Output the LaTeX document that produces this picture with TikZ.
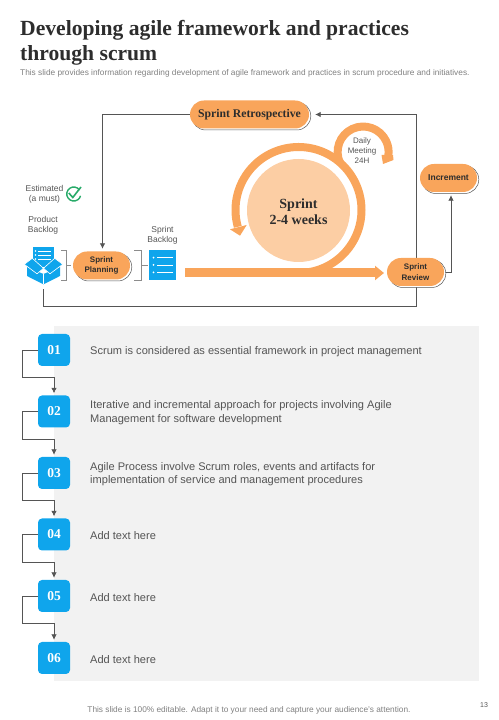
\documentclass[tikz,border=0pt]{standalone}
\usepackage{fontspec}
\setmainfont{Liberation Sans}
\newfontfamily\titlefont{Liberation Serif}
\usepackage{xcolor}
\definecolor{accent}{RGB}{249, 165, 91}
\definecolor{accentlight}{RGB}{252, 206, 164}
\definecolor{bluebox}{RGB}{15, 165, 236}
\definecolor{panelbg}{RGB}{242, 242, 242}
\definecolor{darktext}{RGB}{45, 45, 45}
\definecolor{bodytext}{RGB}{85, 85, 85}
\definecolor{linegray}{RGB}{85, 85, 85}
\definecolor{checkgreen}{RGB}{40, 170, 105}
\usetikzlibrary{shapes.misc,arrows.meta,shadows,backgrounds,calc}

\begin{document}
\begin{tikzpicture}[
  x=1pt, y=1pt,
  pill/.style={rounded rectangle, fill=accent, text=darktext, inner sep=0pt, align=center, minimum width=57pt, minimum height=28pt,
    font=\fontsize{8}{10.5}\selectfont\bfseries,
    copy shadow={shadow xshift=1.8pt, shadow yshift=-1.5pt, draw=linegray, fill=white, line width=0.5pt}},
  label/.style={text=bodytext, align=center, inner sep=0pt, font=\fontsize{8.5}{9.8}\selectfont},
  stepbox/.style={fill=bluebox, text=white, rounded corners=4pt, minimum size=32pt, inner sep=0pt, font=\titlefont\fontsize{13.5}{14}\selectfont\bfseries},
  steptext/.style={text=bodytext, anchor=west, align=left, inner sep=0pt, font=\fontsize{11.05}{13.6}\selectfont},
  arrow/.style={-{Latex[length=5.5pt,width=5.5pt]}, line width=0.7pt, color=linegray},
  bracket/.style={line width=0.6pt, color=black!45},
  sprintline/.style={line width=8pt, color=accent}
]
\useasboundingbox (0,0) rectangle (498,720);

\node[anchor=north west, inner sep=0pt, align=left, text=darktext, font=\titlefont\fontsize{21.6}{25}\selectfont\bfseries] (title) at (20,700) {Developing agile framework and practices\\through scrum};
\node[anchor=west, inner sep=0pt, text=black!50, font=\fontsize{8.3}{9}\selectfont] (subtitle) at (20,647) {This slide provides information regarding development of agile framework and practices in scrum procedure and initiatives.};

\node[pill, minimum width=119pt, font=\titlefont\fontsize{11.7}{13}\selectfont\bfseries] (retro) at (249.5,605.5) {Sprint Retrospective};
\node[pill] (planning) at (101.5,454.5) {Sprint\\Planning};
\node[pill] (review) at (415.5,448) {Sprint\\Review};
\node[pill, font=\fontsize{8.5}{10}\selectfont\bfseries] (increment) at (448.5,542) {Increment};

\node[label] (estimated) at (44.5,526) {Estimated\\(a must)};
\node[label] (product) at (43,494.5) {Product\\Backlog};
\node[label] (sprintlabel) at (162.5,485) {Sprint\\Backlog};

\node[minimum width=38pt, minimum height=38pt, inner sep=0pt] (box) at (43.5,455) {};
\node[fill=bluebox, minimum width=27pt, minimum height=30pt, inner sep=0pt] (backlog) at (162.5,455) {};

\begin{scope}[shift={(box.center)}]
  \fill[bluebox] (-10.5,18) rectangle (10,-2);
  \foreach \yy in {14,10,6} {
    \fill[white] (-8,\yy) circle (0.8);
    \draw[white, line width=0.7pt] (-5.5,\yy) -- (7.5,\yy);
  }
  \fill[bluebox] (-16.5,-2) -- (0,-9) -- (0,-19.3) -- (-16.5,-11) -- cycle;
  \fill[bluebox] (16.5,-2) -- (0,-9) -- (0,-19.3) -- (16.5,-11) -- cycle;
  \draw[white, fill=bluebox, line width=0.6pt] (-19.2,.7) -- (-11.2,6.7) -- (0,-3.3) -- (-6.5,-8.8) -- cycle;
  \draw[white, fill=bluebox, line width=0.6pt] (19.2,.7) -- (11.2,6.7) -- (0,-3.3) -- (6.5,-8.8) -- cycle;
  \draw[white, line width=0.6pt] (0,-9) -- (0,-19.3);
\end{scope}

\begin{scope}[shift={(backlog.center)}]
  \foreach \yy in {7.3,0,-7.3} {
    \fill[white] (-9,\yy) circle (1);
    \draw[white, line width=0.9pt] (-5.5,\yy) -- (10.5,\yy);
  }
\end{scope}

\draw[bracket] (61,469.3) -- (66.7,469.3) -- (66.7,440) -- (61,440) (66.7,454.3) -- (71,454.3);
\draw[bracket] (134,469.3) -- (141.7,469.3) -- (141.7,440) -- (134,440) (141.7,454.3) -- (147.7,454.3);

\draw[checkgreen, line width=1.4pt] (79.5,530) arc (35:345:7);
\draw[checkgreen, line width=1.6pt] (68.8,527) -- (72.8,522.5) -- (81,533);

\fill[accentlight] (298.5,509.5) circle (51.5);
\node[inner sep=0pt, align=center, text=darktext, font=\titlefont\fontsize{14}{16}\selectfont\bfseries] (sprint) at (298.5,508) {Sprint\\2-4 weeks};

\draw[sprintline] (298.5,447) arc (-90:195.5:63);
\fill[accent] (230,490.7) -- (240,484.3) -- (246.7,495) -- cycle;
\draw[sprintline, line width=9pt, -{Triangle[length=9pt,width=14pt]}] (185,447) -- (384,447);

\draw[sprintline, line width=8pt] (340,557.2) arc (205:-8:25.5);
\fill[accent] (381.5,565) -- (393,565) -- (393.5,560) -- (383,556) -- cycle;
\node[label, font=\fontsize{8}{10}\selectfont] (daily) at (362,569) {Daily\\Meeting\\24H};

\foreach \num/\yy/\txt in {
  01/370/{Scrum is considered as essential framework in project management},
  02/308.5/{Iterative and incremental approach for projects involving Agile\\Management for software development},
  03/247/{Agile Process involve Scrum roles, events and artifacts for\\implementation of service and management procedures},
  04/185.5/{Add text here},
  05/124/{Add text here},
  06/62/{Add text here}} {
  \node[stepbox] (s\num) at (54,\yy) {\num};
  \node[steptext] (t\num) at (90,\yy-1.3) {\txt};
}

\begin{scope}[on background layer]
  \fill[panelbg] (54,39) rectangle (479,394);
  \foreach \a/\b in {01/02,02/03,03/04,04/05,05/06} {
    \draw[arrow, shorten >=2pt] (s\a.west) -- ++(-15.5,0) -- ++(0,-27.5) -| (s\b.north);
  }
  \coordinate (loopcorner) at (416,413.5);
  \draw[arrow, shorten <=5pt, shorten >=6pt] (box.south) |- (loopcorner) |- (retro.east);
  \draw[arrow, shorten >=2.5pt] (retro.west) -| ([xshift=1pt]planning.north);
  \draw[arrow, shorten >=3pt] (review.east) -| ([xshift=2.5pt]increment.south);
\end{scope}

\node[inner sep=0pt, text=black!50, font=\fontsize{8.3}{10}\selectfont] (footer) at (249,10) {This slide is 100\% editable. Adapt it to your need and capture your audience's attention.};
\node[inner sep=0pt, text=bodytext, font=\fontsize{7}{8}\selectfont] (pagenum) at (484,14.5) {13};
\end{tikzpicture}
\end{document}
